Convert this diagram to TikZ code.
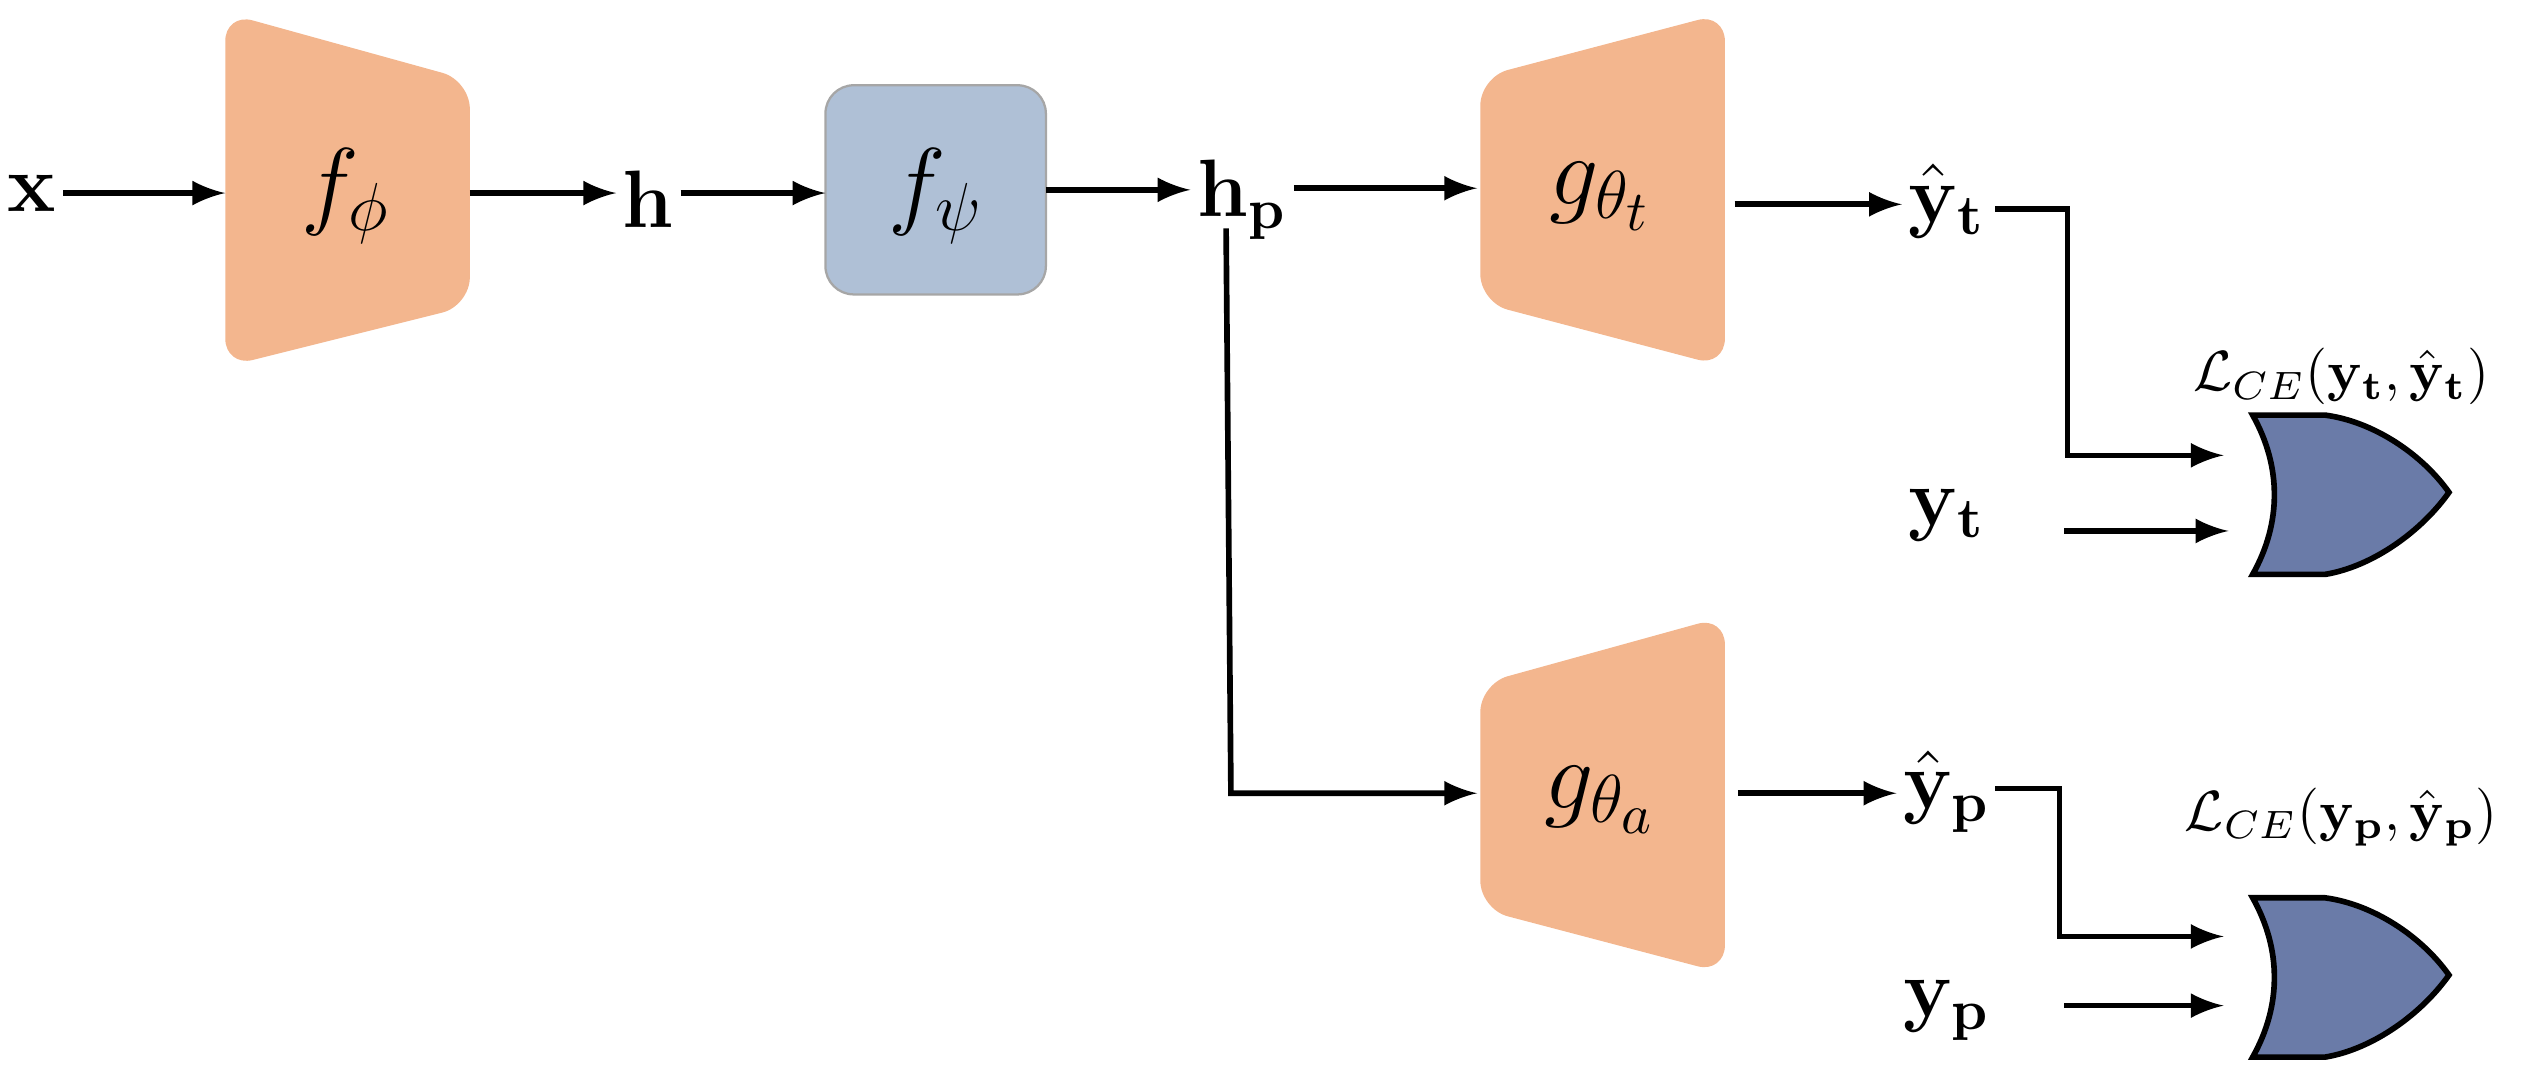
\documentclass[tikz,border=0pt]{standalone}
\usepackage{amsmath,amssymb}
\begin{document}
\begin{tikzpicture}[x=0.01cm,y=-0.01cm,
  arr/.style={-latex,line width=1pt},
  lbl/.style={inner sep=1pt,font=\Large},
  flbl/.style={inner sep=1pt,font=\LARGE}]
\definecolor{orng}{HTML}{F3B68E}
\definecolor{blu}{HTML}{AFC0D6}
\definecolor{gate}{HTML}{6A7BA8}
\useasboundingbox (0,0) rectangle (1568,665);
% blocks
\fill[orng,rounded corners=5pt] (140,8) -- (292,50) -- (292,190) -- (140,228) -- cycle;
\fill[orng,rounded corners=5pt] (920,48) -- (1072,8) -- (1072,228) -- (920,188) -- cycle;
\fill[orng,rounded corners=5pt] (920,425) -- (1072,383) -- (1072,605) -- (920,565) -- cycle;
\draw[fill=blu,draw=gray!70,rounded corners=5pt] (513,53) rectangle (650,183);
\node[flbl] (fphi) at (215,122) {$f_\phi$};
\node[flbl] (fpsi) at (582,122) {$f_\psi$};
\node[flbl] (gt) at (995,122) {$g_{\theta_t}$};
\node[flbl] (ga) at (995,497) {$g_{\theta_a}$};
\coordinate (fphiL) at (140,120); \coordinate (fphiR) at (292,120);
\coordinate (fpsiL) at (513,120); \coordinate (fpsiR) at (650,118);
\coordinate (gtL) at (918,117); \coordinate (gtR) at (1078,127);
\coordinate (gaL) at (918,493); \coordinate (gaR) at (1080,493);
% labels
\node[lbl] (x) at (20,120) {$\mathbf{x}$};
\node[lbl] (h) at (403,124) {$\mathbf{h}$};
\node[lbl] (hp) at (772,124) {$\mathbf{h}_\mathbf{p}$};
\node[lbl] (yht) at (1210,125) {$\hat{\mathbf{y}}_\mathbf{t}$};
\node[lbl] (yt) at (1210,320) {$\mathbf{y}_\mathbf{t}$};
\node[lbl] (yhp) at (1210,492) {$\hat{\mathbf{y}}_\mathbf{p}$};
\node[lbl] (yp) at (1210,628) {$\mathbf{y}_\mathbf{p}$};
\node[inner sep=1pt] (L1) at (1455,234) {$\mathcal{L}_{CE}(\mathbf{y}_\mathbf{t},\hat{\mathbf{y}}_\mathbf{t})$};
\node[inner sep=1pt] (L2) at (1455,508) {$\mathcal{L}_{CE}(\mathbf{y}_\mathbf{p},\hat{\mathbf{y}}_\mathbf{p})$};
% gates
\foreach \o in {0,300}{
\draw[fill=gate,line width=1pt] (1400,258+\o) .. controls (1418,290+\o) and (1418,325+\o) .. (1400,357+\o)
  -- (1445,357+\o) .. controls (1475,352+\o) and (1505,330+\o) .. (1522,306+\o)
  .. controls (1505,282+\o) and (1475,262+\o) .. (1445,258+\o) -- cycle;
}
\coordinate (g1a) at (1382,283); \coordinate (g1b) at (1385,330);
\coordinate (g2a) at (1382,582); \coordinate (g2b) at (1382,625);
% connectors
\draw[arr] (x.east |- fphiL) -- (fphiL);
\draw[arr] (fphiR) -- (h.west |- fphiR);
\draw[arr] (h.east |- fpsiL) -- (fpsiL);
\draw[arr] (fpsiR) -- (hp.west |- fpsiR);
\draw[arr] (hp.east |- gtL) -- (gtL);
\draw[arr] (762,142) -- (765,493) -- (gaL);
\draw[arr] (gtR) -- (yht.west |- gtR);
\draw[arr] (gaR) -- (yhp.west |- gaR);
\draw[arr] (1240,130) -- (1285,130) -- (1285,283) -- (g1a);
\draw[arr] (1283,330) -- (g1b);
\draw[arr] (1240,490) -- (1280,490) -- (1280,582) -- (g2a);
\draw[arr] (1283,625) -- (g2b);
\end{tikzpicture}
\end{document}
